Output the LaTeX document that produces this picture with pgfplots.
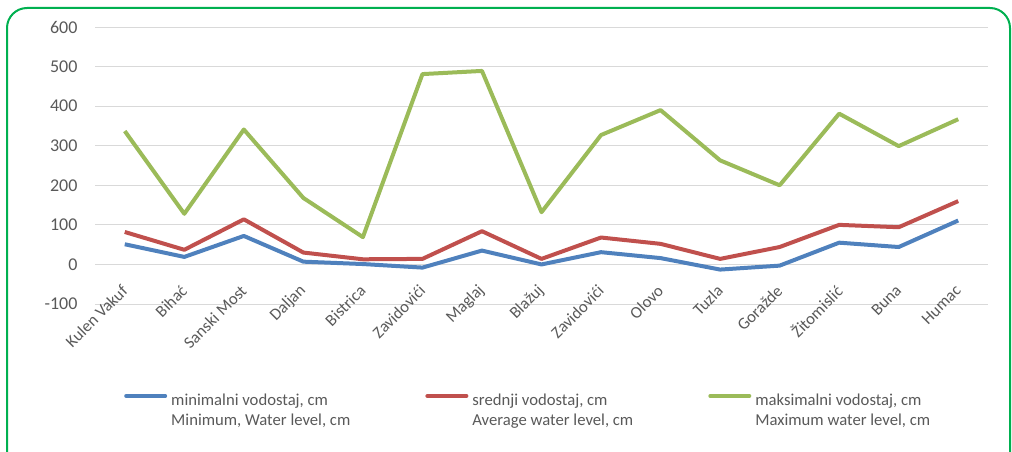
\documentclass[border=0pt]{standalone}
\usepackage{pgfplots}
\pgfplotsset{compat=1.18}
\usepackage{fontspec}
\setmainfont{Carlito}
\definecolor{cblue}{HTML}{4F81BD}
\definecolor{cred}{HTML}{C0504D}
\definecolor{cgreen}{HTML}{9BBB59}
\definecolor{txt}{HTML}{595959}
\definecolor{gridc}{HTML}{D9D9D9}
\definecolor{frame}{HTML}{00B050}
\begin{document}
\begin{tikzpicture}
\useasboundingbox (0pt,0pt) rectangle (759pt,338.25pt);
\begin{scope}
\clip (0pt,0pt) rectangle (759pt,338.25pt);
\draw[frame, line width=1.5pt, rounded corners=15pt] (5.25pt,-20pt) rectangle (757.5pt,332.25pt);
\end{scope}
\begin{axis}[
  at={(71.25pt,110.25pt)}, anchor=south west,
  scale only axis, width=669.75pt, height=207.75pt,
  xmin=-0.5, xmax=14.5, ymin=-100, ymax=600,
  ytick={-100,0,...,600},
  xtick={0,...,14},
  xticklabels={Kulen Vakuf,Bihać,Sanski Most,Daljan,Bistrica,Zavidovići,Maglaj,Blažuj,Zavidovići,Olovo,Tuzla,Goražde,Žitomislić,Buna,Humac},
  ymajorgrids, major grid style={gridc, line width=0.75pt},
  axis line style={draw=none}, tick style={draw=none},
  /pgf/number format/assume math mode=true,
  yticklabel style={font=\fontsize{13.5}{16}\selectfont, text=txt, anchor=east, inner sep=0pt, xshift=-13pt},
  xticklabel style={font=\fontsize{12.5}{14}\selectfont, text=txt, yshift=12pt, rotate=45, anchor=east, inner sep=0pt},
  legend columns=3,
  legend style={at={(0.0324,-0.307)}, anchor=north west, draw=none, fill=none, inner sep=0pt,
    font=\fontsize{12.5}{15}\selectfont, text=txt,
    nodes={inner xsep=0pt},
    /tikz/every odd column/.append style={column sep=3pt},
    /tikz/every even column/.append style={column sep=56.3pt}},
  legend cell align=left,
  legend image code/.code={\draw[#1, line cap=round] (0pt,0.3em) -- (29.25pt,0.3em);},
  every axis plot/.append style={line width=3pt, line join=round},
]
\addplot[cblue] coordinates {(0,51) (1,19) (2,72) (3,7) (4,1) (5,-8) (6,35) (7,0) (8,31) (9,16) (10,-13) (11,-3) (12,55) (13,44) (14,111)};
\addlegendentry{\begin{tabular}[t]{@{}l@{}}minimalni vodostaj, cm\\Minimum, Water level, cm\end{tabular}}
\addplot[cred] coordinates {(0,82) (1,37) (2,114) (3,30) (4,13) (5,14) (6,84) (7,14) (8,68) (9,52) (10,14) (11,44) (12,100) (13,94) (14,160)};
\addlegendentry{\begin{tabular}[t]{@{}l@{}}srednji vodostaj, cm\\Average water level, cm\end{tabular}}
\addplot[cgreen] coordinates {(0,337) (1,128) (2,341) (3,168) (4,69) (5,481) (6,489) (7,132) (8,327) (9,390) (10,263) (11,200) (12,381) (13,299) (14,367)};
\addlegendentry{\begin{tabular}[t]{@{}l@{}}maksimalni vodostaj, cm\\Maximum water level, cm\end{tabular}}
\end{axis}
\end{tikzpicture}
\end{document}
